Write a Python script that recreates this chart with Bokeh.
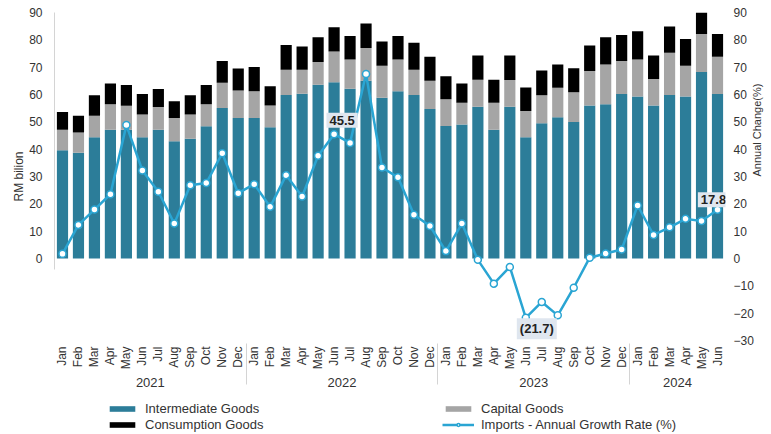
import math
from bokeh.plotting import figure
from bokeh.layouts import column
from bokeh.models import (ColumnDataSource, FactorRange, Range1d, LinearAxis, FixedTicker,
                          Legend, LegendItem)
from bokeh.core.properties import value
from bokeh.embed import file_html
from bokeh.resources import INLINE

# ---------------- data ----------------
years = ["2021"] * 12 + ["2022"] * 12 + ["2023"] * 12 + ["2024"] * 6
months = ["Jan", "Feb", "Mar", "Apr", "May", "Jun", "Jul", "Aug", "Sep", "Oct", "Nov", "Dec"] * 3 + \
         ["Jan", "Feb", "Mar", "Apr", "May", "Jun"]

intermediate = [39.6, 38.7, 44.4, 47.1, 47.1, 44.4, 47.1, 42.9, 43.8, 48.4, 55.1, 51.4,
                51.4, 48.0, 59.8, 60.3, 63.6, 64.5, 62.1, 65.0, 58.8, 61.2, 59.8, 54.7,
                48.5, 49.0, 55.5, 47.1, 55.5, 44.4, 49.5, 51.7, 49.9, 56.0, 56.4, 60.2,
                59.3, 56.0, 59.8, 59.3, 68.2, 60.2]
capital = [7.5, 7.4, 7.8, 9.3, 8.8, 8.3, 8.3, 8.5, 8.9, 8.0, 9.2, 10.1,
           9.8, 8.0, 9.3, 8.8, 8.3, 11.2, 10.7, 12.0, 11.7, 11.6, 9.3, 10.3,
           9.8, 8.0, 9.9, 9.9, 9.8, 9.6, 10.2, 10.8, 10.9, 12.6, 14.6, 12.1,
           13.5, 9.7, 15.5, 11.2, 13.9, 13.6]
consumption = [6.5, 6.1, 7.5, 7.6, 7.6, 7.5, 6.6, 6.1, 7.0, 7.1, 8.0, 8.0,
               8.9, 7.0, 9.0, 8.5, 9.0, 8.9, 8.6, 9.0, 8.9, 8.6, 9.8, 8.8,
               8.4, 7.0, 8.9, 8.4, 9.0, 8.6, 9.1, 8.5, 8.8, 9.3, 9.9, 9.5,
               10.3, 8.6, 9.6, 9.8, 8.5, 8.3]
growth = [1.7, 12.3, 17.9, 23.5, 48.8, 32.2, 24.4, 12.8, 26.8, 27.6, 38.5, 23.9,
          27.2, 18.9, 30.5, 22.7, 37.6, 45.5, 42.3, 67.5, 33.3, 29.7, 16.0, 11.9,
          2.7, 12.8, -0.5, -9.2, -3.1, -21.7, -15.9, -20.8, -10.7, 0.3, 1.8, 3.3,
          19.4, 8.6, 11.4, 14.5, 13.7, 17.8]
labelled_points = [17, 29, 41]          # Jun 2022, Jun 2023, Jun 2024

left_ticks = list(range(0, 100, 10))
right_ticks = list(range(-30, 100, 10))

series_names = ["Intermediate Goods", "Capital Goods", "Consumption Goods",
                "Imports - Annual Growth Rate (%)"]
left_title = "RM bilion"
right_title = "Annual Change(%)"

# ---------------- style ----------------
C_INTER = "#2c7d99"
C_CAP = "#a5a5a5"
C_CONS = "#000000"
C_LINE = "#2aa5d3"
FONT = "Liberation Sans"
TXT = "#333333"
label_offsets = [(8, -14), (11, 11), (-4, -10)]

# an empty middle level only adds vertical room between month and year rows
factors = [(y, "", m) for y, m in zip(years, months)]
src = ColumnDataSource(dict(x=factors, inter=intermediate, cap=capital, cons=consumption, g=growth))

xr = FactorRange(*factors, range_padding=0, group_padding=0, subgroup_padding=0, factor_padding=0)

p = figure(width=771, height=400, output_backend="svg", toolbar_location=None,
           x_range=xr, y_range=Range1d(-30, 90),
           min_border_left=54, min_border_right=39, min_border_top=12, min_border_bottom=60)
p.outline_line_color = None
p.grid.visible = False
p.extra_y_ranges = {"pct": Range1d(-30, 90)}

bars = p.vbar_stack(["inter", "cap", "cons"], x="x", width=0.7, source=src,
                    color=[C_INTER, C_CAP, C_CONS], line_color=None)
ln = p.line(x="x", y="g", source=src, y_range_name="pct", line_color=C_LINE, line_width=2.5)
mk = p.scatter(x="x", y="g", source=src, y_range_name="pct", size=7, fill_color="white",
               line_color=C_LINE, line_width=1.5)

# data labels
def fmt(v):
    return f"({abs(v):.1f})" if v < 0 else f"{v:.1f}"

for k, i in enumerate(labelled_points):
    dx, dy = label_offsets[k]
    p.text(x=[factors[i]], y=[growth[i]], text=[fmt(growth[i])], y_range_name="pct",
           x_offset=dx, y_offset=dy, text_align="center", text_baseline="middle",
           text_font=value(FONT), text_font_size="13px", text_font_style="bold",
           text_color="#222222", background_fill_color="#dfe6ef", padding=3)

def plain(ax):
    ax.major_tick_line_color = None
    ax.minor_tick_line_color = None
    ax.major_tick_out = 0
    ax.major_tick_in = 0
    ax.minor_tick_out = 0
    ax.minor_tick_in = 0
    ax.major_label_text_font = FONT
    ax.major_label_text_font_size = "12px"
    ax.major_label_text_color = TXT
    ax.axis_label_text_font = FONT
    ax.axis_label_text_font_size = "12px"
    ax.axis_label_text_font_style = "normal"
    ax.axis_label_text_color = TXT

# left axis (ticks)
la = p.yaxis[0]
plain(la)
la.ticker = FixedTicker(ticks=left_ticks)
la.bounds = (-4, 90)
la.axis_line_color = "#d4d4d4"
la.major_label_standoff = 12

# left title axis (outer, label only)
lt = LinearAxis(ticker=FixedTicker(ticks=[40]), bounds=(-17, 90))
plain(lt)
lt.axis_line_color = None
lt.major_label_overrides = {40: ""}
lt.major_label_standoff = 0
lt.axis_label = left_title
lt.axis_label_standoff = 1
p.add_layout(lt, "left")

# right axis (ticks)
ra = LinearAxis(y_range_name="pct", ticker=FixedTicker(ticks=right_ticks))
plain(ra)
ra.axis_line_color = None
ra.major_label_standoff = 8
p.add_layout(ra, "right")

# right title axis (outer, label only, reading bottom-to-top)
rt = LinearAxis(y_range_name="pct", ticker=FixedTicker(ticks=[0]), bounds=(-30, 65))
plain(rt)
rt.axis_line_color = None
rt.major_label_overrides = {0: ""}
rt.major_label_standoff = 0
rt.axis_label = right_title
rt.axis_label_standoff = 0
rt.axis_label_text_font_size = "11px"
if "axis_label_orientation" in rt.properties():
    rt.axis_label_orientation = math.pi / 2
p.add_layout(rt, "right")

# categorical x axis
xa = p.xaxis[0]
plain(xa)
xa.axis_line_color = None
xa.major_label_orientation = math.pi / 2
xa.major_label_standoff = 6
xa.subgroup_text_font_size = "13px"
xa.subgroup_text_font = FONT
xa.group_label_orientation = "horizontal"
xa.group_text_font = FONT
xa.group_text_font_size = "13px"
xa.group_text_font_style = "normal"
xa.group_text_color = TXT
xa.separator_line_color = "#d4d4d4"
xa.separator_line_width = 1

# legend in its own strip below the chart (same data, drawn out of view)
lg = figure(width=771, height=34, output_backend="svg", toolbar_location=None,
            x_axis_location=None, y_axis_location=None, min_border=0,
            x_range=xr, y_range=Range1d(1000, 1001))
lg.outline_line_color = None
lg.grid.visible = False
lbars = lg.vbar_stack(["inter", "cap", "cons"], x="x", width=0.7, source=src,
                      color=[C_INTER, C_CAP, C_CONS], line_color=None)
lln = lg.line(x="x", y="g", source=src, line_color=C_LINE, line_width=2.5)
lmk = lg.scatter(x="x", y="g", source=src, size=7, fill_color="white",
                 line_color=C_LINE, line_width=1.5)
items = [LegendItem(label=series_names[0], renderers=[lbars[0]]),
         LegendItem(label=series_names[1], renderers=[lbars[1]]),
         LegendItem(label=series_names[2], renderers=[lbars[2]]),
         LegendItem(label=series_names[3], renderers=[lln, lmk])]
leg = Legend(items=items, orientation="horizontal", ncols=2, location=(52, 2),
             glyph_width=32, glyph_height=7, label_standoff=7, label_width=296, spacing=1,
             padding=0, margin=0, border_line_color=None, background_fill_alpha=0,
             label_text_font=FONT, label_text_font_size="13px", label_text_color=TXT,
             label_height=14)
lg.add_layout(leg, "center")

open("out.html", "w").write(file_html(column(p, lg, spacing=0), INLINE))
